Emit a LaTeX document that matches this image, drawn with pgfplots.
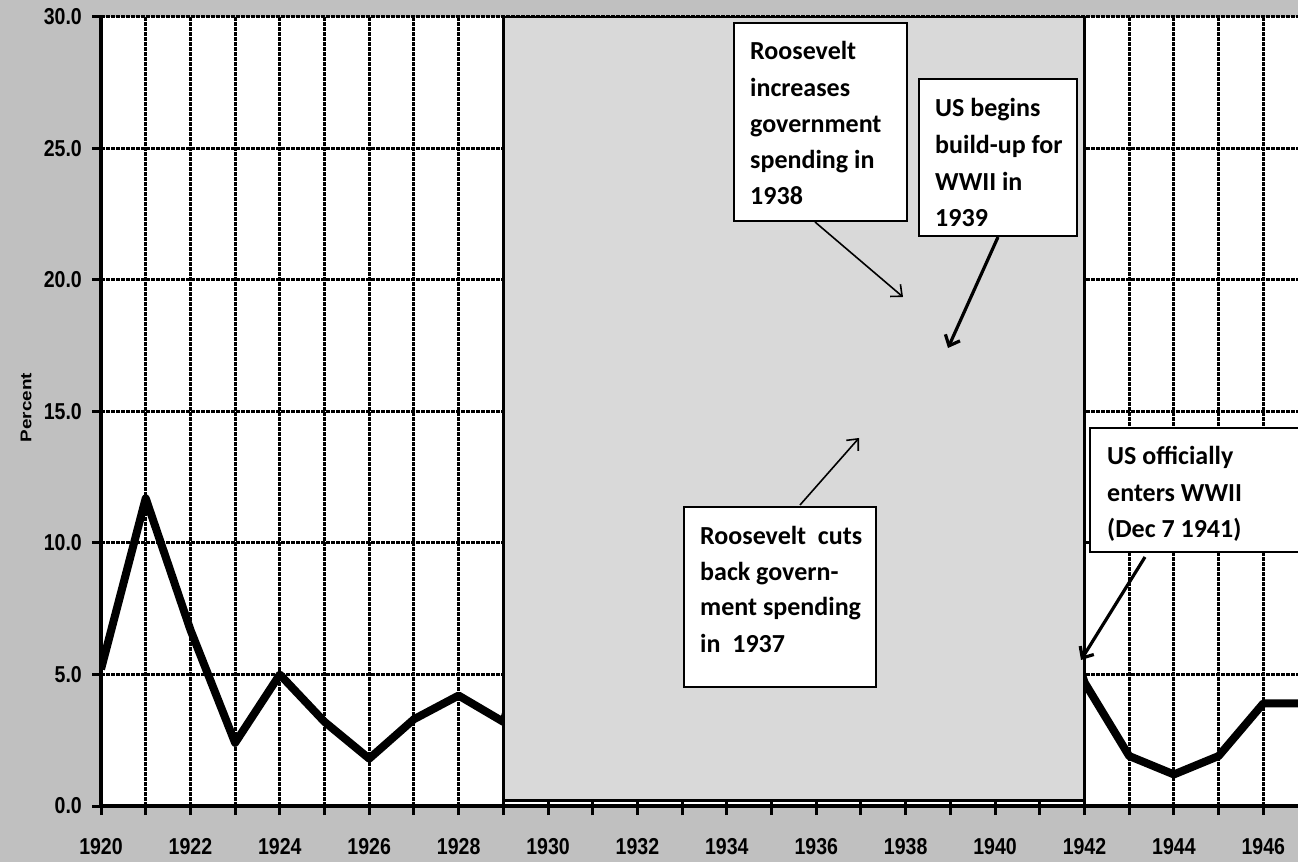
\documentclass[border=0pt]{standalone}
\usepackage{pgfplots}
\pgfplotsset{compat=1.18}
\usepackage{fontspec}
\setmainfont{Liberation Sans}
\newfontfamily\tickfont{Liberation Sans}[FakeStretch=0.85]
\newfontfamily\ylabfont{Liberation Sans}[FakeStretch=1.22]
\newfontfamily\boxfont{Carlito}
\usetikzlibrary{arrows.meta}
\definecolor{outerbg}{HTML}{C0C0C0}
\definecolor{rectbg}{HTML}{D9D9D9}
\newcommand\bline[3]{\node[anchor=base west, inner sep=0pt, font=\boxfont\bfseries\fontsize{26}{30}\selectfont] at (#1,#2) {#3};}
\begin{document}
\begin{tikzpicture}[x=1pt,y=1pt]
\path[use as bounding box] (0,0) rectangle (1298,862);
\clip (0,0) rectangle (1298,862);
\fill[outerbg] (0,0) rectangle (1298,862);
\begin{axis}[
  at={(101pt,56pt)}, anchor=south west,
  scale only axis, width=1207pt, height=789pt,
  xmin=1920, xmax=1947, ymin=0, ymax=30,
  axis lines=left, axis line style={line width=4pt,-},
  axis background/.style={fill=white},
  xtick={1920,1922,1924,1926,1928,1930,1932,1934,1936,1938,1940,1942,1944,1946},
  xticklabels={1920,1922,1924,1926,1928,1930,1932,1934,1936,1938,1940,1942,1944,1946},
  minor xtick={1921,1923,1925,1927,1929,1931,1933,1935,1937,1939,1941,1943,1945,1947},
  ytick={0,5,10,15,20,25,30},
  yticklabels={0.0,5.0,10.0,15.0,20.0,25.0,30.0},
  grid=both,
  major grid style={black, line width=3pt, dash pattern=on 4pt off 1pt},
  minor grid style={black, line width=3pt, dash pattern=on 4pt off 1pt},
  tick align=outside, major tick length=9pt, minor tick length=9pt,
  tick style={black, line width=3pt},
  minor tick style={black, line width=3pt},
  xticklabel style={font=\tickfont\bfseries\fontsize{23}{27}\selectfont, inner sep=0pt, anchor=north, yshift=-23pt},
  yticklabel style={font=\tickfont\bfseries\fontsize{23}{27}\selectfont, inner sep=0pt, anchor=east, xshift=-10pt},
  ylabel={Percent},
  ylabel style={font=\ylabfont\bfseries\fontsize{15.5}{18}\selectfont, at={(axis description cs:-0.0621,0.505)}, anchor=center},
]
\addplot[black, line width=8pt, line join=round] coordinates {
(1920,5.2) (1921,11.7) (1922,6.7) (1923,2.4) (1924,5.0) (1925,3.2) (1926,1.8)
(1927,3.3) (1928,4.2) (1929,3.2) (1930,8.7) (1931,15.9) (1932,23.6) (1933,24.9)
(1934,21.7) (1935,20.1) (1936,16.9) (1937,14.3) (1938,19.0) (1939,17.2) (1940,14.6)
(1941,9.9) (1942,4.7) (1943,1.9) (1944,1.2) (1945,1.9) (1946,3.9) (1947,3.9)};
\filldraw[fill=rectbg, draw=black, line width=3pt] (axis cs:1929,0.2) rectangle (axis cs:1942,30);
\end{axis}
% annotation boxes
\filldraw[fill=white, draw=black, line width=2pt] (734,641) rectangle (907,839);
\bline{750}{802}{Roosevelt}
\bline{750}{765}{increases}
\bline{750}{729}{government}
\bline{750}{693}{spending in}
\bline{750}{657}{1938}
\filldraw[fill=white, draw=black, line width=2pt] (919,626) rectangle (1077,783);
\bline{935}{745}{US begins}
\bline{935}{708}{build-up for}
\bline{935}{671}{WWII in}
\bline{935}{635}{1939}
\filldraw[fill=white, draw=black, line width=2pt] (684,175) rectangle (876,355);
\bline{700}{317}{Roosevelt\ \ cuts}
\bline{700}{281}{back govern-}
\bline{700}{246}{ment spending}
\bline{700}{209}{in\ \ 1937}
\filldraw[fill=white, draw=black, line width=2pt] (1090,310) rectangle (1310,434);
\bline{1107}{397}{US officially}
\bline{1107}{360}{enters WWII}
\bline{1107}{324}{(Dec 7 1941)}
% arrows
\draw[line width=1.6pt, -{Straight Barb[length=9pt,width=16pt]}] (815,640) -- (903,565);
\draw[line width=3.2pt, -{Straight Barb[length=9pt,width=16pt]}] (998,625) -- (948,514);
\draw[line width=1.6pt, -{Straight Barb[length=9pt,width=16pt]}] (800,357) -- (859,424);
\draw[line width=3.2pt, -{Straight Barb[length=9pt,width=16pt]}] (1145,305) -- (1081,202);
\end{tikzpicture}
\end{document}
